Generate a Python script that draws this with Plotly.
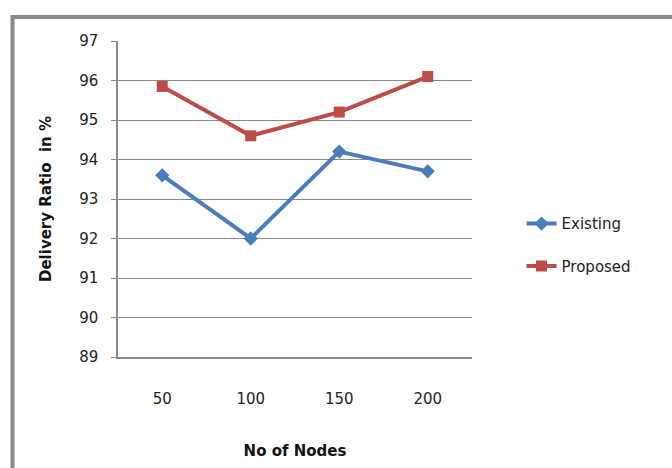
import plotly.graph_objects as go

nodes = ["50", "100", "150", "200"]
existing = [93.6, 92.0, 94.2, 93.7]
proposed = [95.85, 94.6, 95.2, 96.1]
y_ticks = [89, 90, 91, 92, 93, 94, 95, 96, 97]

FONT = "DejaVu Sans"
fig = go.Figure()
fig.add_trace(go.Scatter(
    x=nodes, y=existing, name="Existing", mode="lines+markers",
    line=dict(color="#4A7EBB", width=4),
    marker=dict(symbol="diamond", size=11, color="#4A7EBB"),
    legendgroup="a"))
fig.add_trace(go.Scatter(
    x=nodes, y=proposed, name="Proposed", mode="lines+markers",
    line=dict(color="#BE4B48", width=4),
    marker=dict(symbol="square", size=11, color="#BE4B48"),
    legendgroup="b"))

fig.update_layout(
    width=672, height=468,
    margin=dict(l=118, r=200, t=41, b=111),
    paper_bgcolor="white", plot_bgcolor="white",
    font=dict(family=FONT, size=15, color="#222"),
    showlegend=True,
    legend=dict(x=1.14, y=0.355, xanchor="left", yanchor="middle",
                traceorder="grouped", tracegroupgap=20,
                font=dict(family=FONT, size=15, color="#222"),
                bgcolor="rgba(0,0,0,0)"),
    xaxis=dict(type="category", range=[-0.5, 3.5], showline=True,
               linecolor="#888", linewidth=1.5, showgrid=False,
               ticks="", tickfont=dict(size=15, color="#222"),
               ticklabelstandoff=27, automargin=False,
               title=dict(text="<b>No of Nodes</b>", standoff=39,
                          font=dict(size=15, color="#111"))),
    yaxis=dict(range=[89, 97], tickvals=y_ticks, showline=True,
               linecolor="#888", linewidth=1.5, showgrid=True,
               gridcolor="#888", gridwidth=1, ticks="outside",
               ticklen=5, tickcolor="#888", zeroline=False,
               tickfont=dict(size=15, color="#222"),
               ticklabelstandoff=10, automargin=False,
               title=dict(text="<b>Delivery Ratio  in %</b>", standoff=24,
                          font=dict(size=15, color="#111"))),
    shapes=[dict(type="rect", xref="paper", yref="paper",
                 x0=-0.298, x1=1.7, y0=-0.5, y1=1.076,
                 line=dict(color="#8a8a8a", width=4), layer="below")],
)

fig.write_html("out.html", config={"displayModeBar": False},
               post_script="document.body.style.margin='0';")
